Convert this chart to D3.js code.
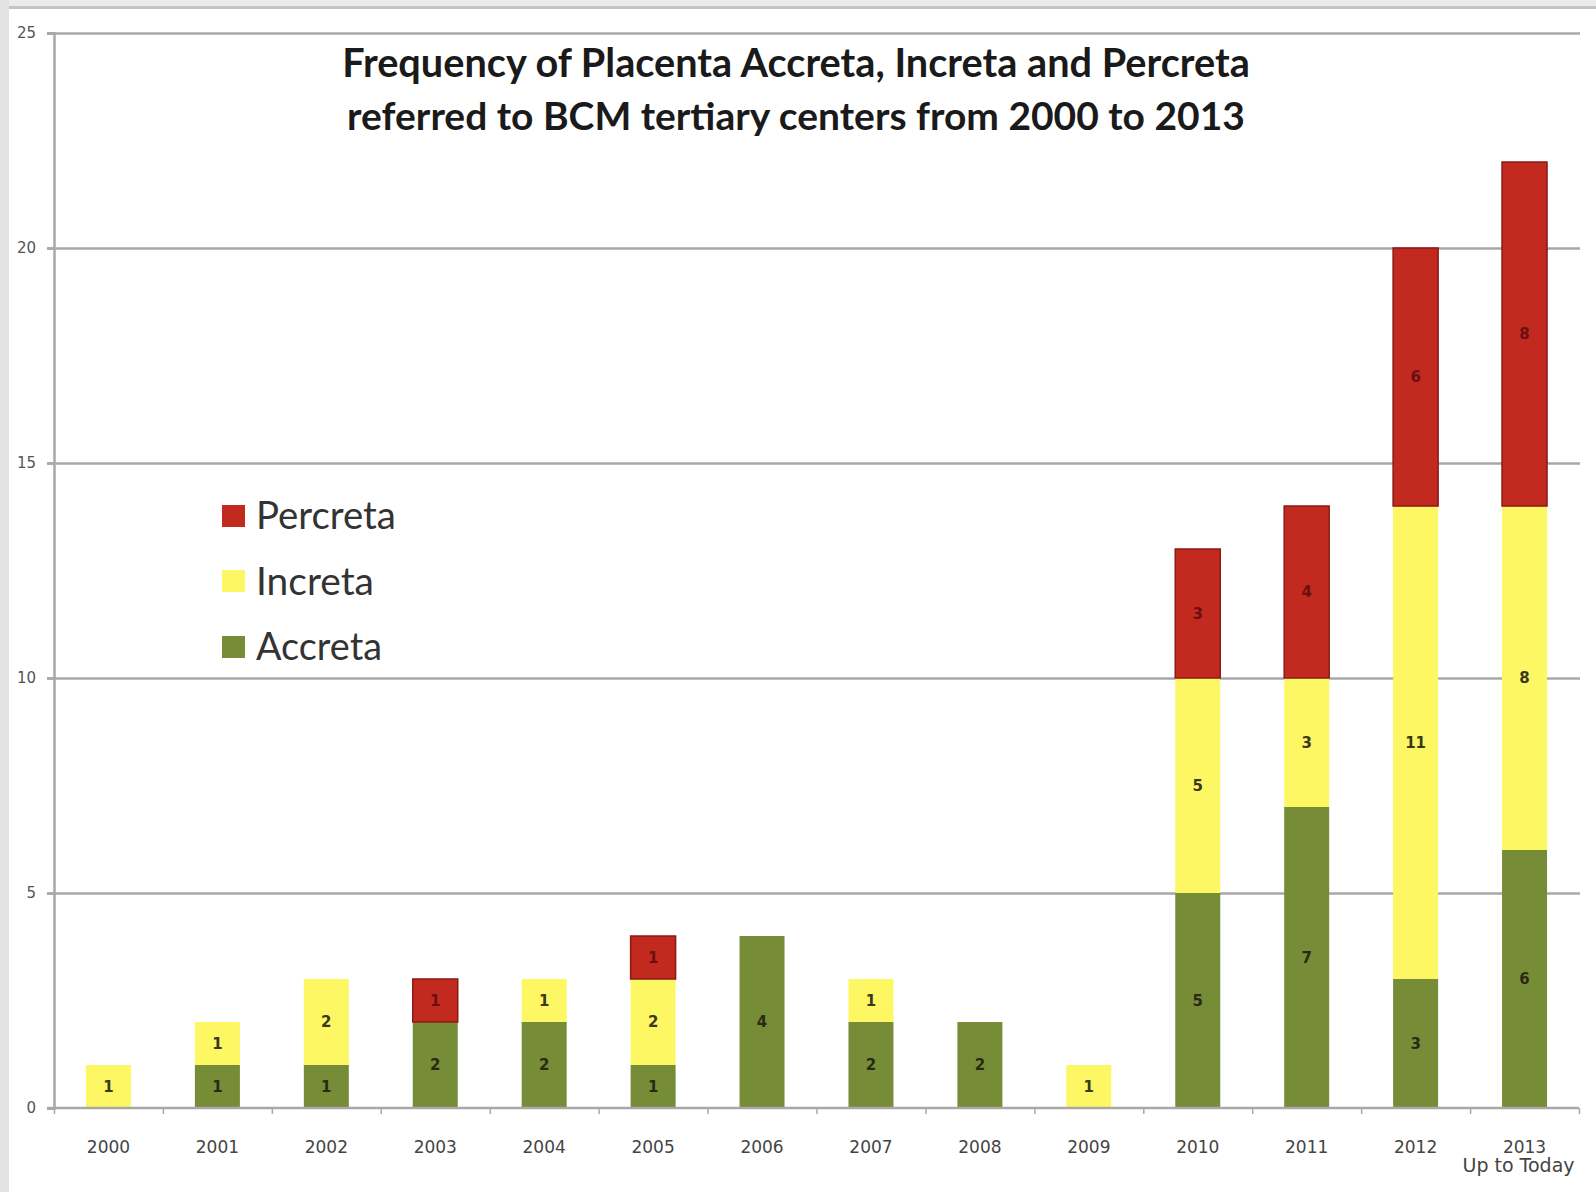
<!DOCTYPE html>
<html>
<head>
<meta charset="utf-8">
<script src="https://cdn.jsdelivr.net/npm/d3@7"></script>
<style>
  html, body { margin: 0; padding: 0; background: #ffffff; }
  svg { display: block; }
</style>
</head>
<body>
<svg id="chart" width="1596" height="1192"></svg>
<script>
// ---- data ----
const years = ["2000","2001","2002","2003","2004","2005","2006","2007","2008","2009","2010","2011","2012","2013"];
const accreta  = [0, 1, 1, 2, 2, 1, 4, 2, 2, 0, 5, 7, 3, 6];
const increta  = [1, 1, 2, 0, 1, 2, 0, 1, 0, 1, 5, 3, 11, 8];
const percreta = [0, 0, 0, 1, 0, 1, 0, 0, 0, 0, 3, 4, 6, 8];
const seriesNames = ["Accreta", "Increta", "Percreta"];
const yTicks = [0, 5, 10, 15, 20, 25];
const titleLines = ["Frequency of Placenta Accreta, Increta and Percreta",
                    "referred to BCM tertiary centers from 2000 to 2013"];
const extraXLabel = "Up to Today";

// ---- styles ----
const colors = { Accreta: "#768c37", Increta: "#fdf764", Percreta: "#c2291f" };
const labelColors = { Accreta: "#2a2a14", Increta: "#3a3a1a", Percreta: "#6a1010" };

const svg = d3.select("#chart");
const mLeft = 54, mRight = 1579, mTop = 33, mBottom = 1108;

// background frame strips
svg.append("rect").attr("x", 0).attr("y", 0).attr("width", 1596).attr("height", 7).attr("fill", "#ececec");
svg.append("rect").attr("x", 0).attr("y", 6).attr("width", 1596).attr("height", 3).attr("fill", "#c4c4c4");
svg.append("rect").attr("x", 0).attr("y", 0).attr("width", 9).attr("height", 1192).attr("fill", "#e3e3e3");

const table = years.map((yr, i) => ({ year: yr, Accreta: accreta[i], Increta: increta[i], Percreta: percreta[i] }));
const stack = d3.stack().keys(seriesNames)(table);

const pad = 0.587;
const x = d3.scaleBand().domain(years).range([mLeft, mRight]).paddingInner(pad).paddingOuter(pad / 2);
const y = d3.scaleLinear().domain([0, 25]).range([mBottom, mTop]);
const xb = d3.scaleLinear().domain([0, years.length]).range([mLeft, mRight]);

// gridlines
const grid = svg.append("g").attr("transform", `translate(${mLeft},0)`)
  .call(d3.axisLeft(y).tickValues(yTicks.slice(1)).tickSize(-(mRight - mLeft + 1)).tickFormat(""));
grid.select(".domain").remove();
grid.selectAll("line").attr("stroke", "#a8a8a8").attr("stroke-width", 2.5).attr("x1", -7);

// y axis
const yAxis = svg.append("g").attr("transform", `translate(${mLeft},0)`)
  .call(d3.axisLeft(y).tickValues(yTicks).tickSize(7).tickPadding(11));
yAxis.select(".domain").attr("stroke", "#a8a8a8").attr("stroke-width", 2.5);
yAxis.selectAll("line").attr("stroke", "#a8a8a8").attr("stroke-width", 2.5);
yAxis.selectAll("text").attr("font-family", "DejaVu Sans").attr("font-size", 15).attr("fill", "#555");

// bars
const layers = svg.append("g").selectAll("g").data(stack).join("g")
  .attr("fill", d => colors[d.key]);
layers.selectAll("rect").data(d => d.filter(s => s[1] > s[0]).map(s => Object.assign(s, { key: d.key })))
  .join("rect")
  .attr("x", d => x(d.data.year))
  .attr("width", x.bandwidth())
  .attr("y", d => y(d[1]))
  .attr("height", d => y(d[0]) - y(d[1]))
  .attr("stroke", d => d.key === "Percreta" ? "#8a1a14" : "none")
  .attr("stroke-width", 1.5);

// value labels
const labels = svg.append("g");
stack.forEach(layer => {
  layer.filter(s => s[1] > s[0]).forEach(s => {
    labels.append("text")
      .attr("x", x(s.data.year) + x.bandwidth() / 2)
      .attr("y", y((s[0] + s[1]) / 2))
      .attr("dy", "0.36em")
      .attr("text-anchor", "middle")
      .attr("font-family", "DejaVu Sans")
      .attr("font-weight", "bold")
      .attr("font-size", 15)
      .attr("fill", labelColors[layer.key])
      .text(s[1] - s[0]);
  });
});

// x axis: baseline and boundary ticks
const xAxis = svg.append("g").attr("transform", `translate(0,${mBottom})`)
  .call(d3.axisBottom(xb).ticks(years.length).tickSize(6).tickFormat(""));
xAxis.select(".domain").attr("stroke", "#a8a8a8").attr("stroke-width", 2.5).attr("d", `M${mLeft - 7},0H${mRight}`);
xAxis.selectAll("line").attr("stroke", "#a8a8a8").attr("stroke-width", 1.5);

// x labels
const xLab = svg.append("g").attr("transform", `translate(0,${mBottom})`)
  .call(d3.axisBottom(x).tickSize(0).tickPadding(45));
xLab.select(".domain").remove();
xLab.selectAll("text").attr("font-family", "DejaVu Sans").attr("font-size", 17).attr("fill", "#444").attr("dy", "0");
svg.append("text").attr("x", x("2013") + x.bandwidth() / 2 - 6).attr("y", 1172)
  .attr("text-anchor", "middle").attr("font-family", "DejaVu Sans").attr("font-size", 19)
  .attr("fill", "#444").text(extraXLabel);

// helper to fit text width
function fit(sel, target) {
  const w = sel.node().getComputedTextLength();
  const fs = parseFloat(sel.attr("font-size"));
  sel.attr("font-size", fs * target / w);
}

// title
const titleWidths = [908, 898];
const titleY = [77, 130];
titleLines.forEach((t, i) => {
  const tt = svg.append("text").attr("x", 796).attr("y", titleY[i])
    .attr("text-anchor", "middle").attr("font-family", "Lato").attr("font-weight", "bold")
    .attr("font-size", 34).attr("fill", "#1a1a1a").text(t);
  fit(tt, titleWidths[i]);
});

// legend
const legendOrder = ["Percreta", "Increta", "Accreta"];
const legendY = [516, 581, 647];
const legendW = { Percreta: 140, Increta: 118, Accreta: 126 };
legendOrder.forEach((k, i) => {
  svg.append("rect").attr("x", 222).attr("y", legendY[i] - 11).attr("width", 23).attr("height", 22)
    .attr("fill", colors[k]);
  const t = svg.append("text").attr("x", 256).attr("y", legendY[i]).attr("dy", "0.35em")
    .attr("font-family", "Lato").attr("font-size", 36).attr("fill", "#333").text(k);
  fit(t, legendW[k]);
});
</script>
</body>
</html>
